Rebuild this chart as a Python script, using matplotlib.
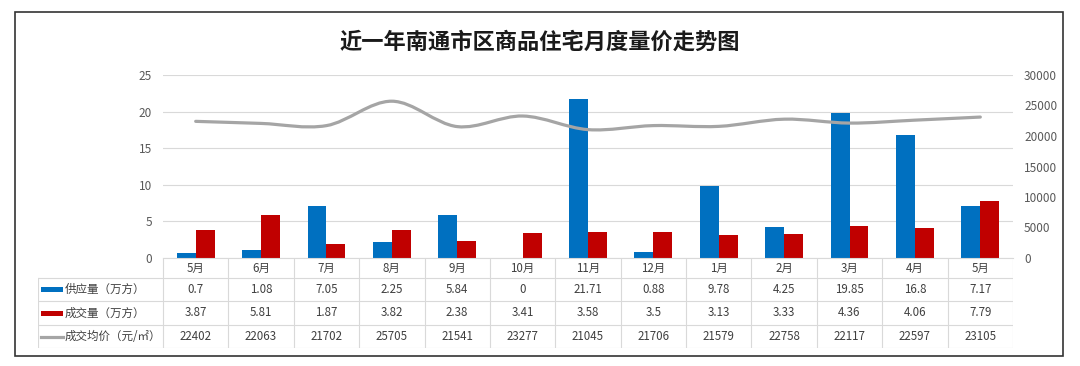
# 南通市区商品住宅月度量价走势图 - bars + smoothed price line + data table
import matplotlib
matplotlib.use('Agg')
import matplotlib.pyplot as plt
from matplotlib.path import Path
from matplotlib.patches import PathPatch, Rectangle
import numpy as np

plt.rcParams['font.family'] = ['Noto Sans CJK SC', 'DejaVu Sans']

# data
months = ['5月', '6月', '7月', '8月', '9月', '10月', '11月', '12月',
          '1月', '2月', '3月', '4月', '5月']
supply = [0.7, 1.08, 7.05, 2.25, 5.84, 0, 21.71, 0.88, 9.78, 4.25, 19.85, 16.8, 7.17]
deals = [3.87, 5.81, 1.87, 3.82, 2.38, 3.41, 3.58, 3.5, 3.13, 3.33, 4.36, 4.06, 7.79]
price = [22402, 22063, 21702, 25705, 21541, 23277, 21045, 21706,
         21579, 22758, 22117, 22597, 23105]
series_names = ['供应量（万方）', '成交量（万方）', '成交均价（元/㎡）']

blue = '#0070C0'
red = '#C00000'
grey = '#A5A5A5'
gridc = '#D9D9D9'
txtc = '#404040'

W, H = 1080, 366
fig = plt.figure(figsize=(W / 100, H / 100), dpi=100)


def fx(px):
    return px / W


def fy(py):
    return 1 - py / H


# plot area in pixels
L, R, T, B = 163, 1013, 75, 258
ax = fig.add_axes([fx(L), fy(B), fx(R - L), fy(T) - fy(B)])
x = np.arange(len(months))
bw = 0.29
ax.bar(x - bw / 2, supply, bw, color=blue, zorder=2)
ax.bar(x + bw / 2, deals, bw, color=red, zorder=2)
ax.set_xlim(-0.5, len(months) - 0.5)
ax.set_ylim(0, 25)
ax.set_yticks(np.arange(0, 26, 5))
ax.set_xticks([])
ax.grid(axis='y', color=gridc, linewidth=0.8, zorder=0)
for s in ['top', 'right', 'left']:
    ax.spines[s].set_visible(False)
ax.spines['bottom'].set_color(gridc)
ax.tick_params(axis='y', length=0, labelsize=8.5, labelcolor='#595959', pad=8)

# price line on secondary axis, smoothed like Excel (Catmull-Rom -> Bezier)
ax2 = ax.twinx()
ax2.set_ylim(0, 30000)
ax2.set_yticks(np.arange(0, 30001, 5000))
ax2.tick_params(axis='y', length=0, labelsize=8.5, labelcolor='#595959', pad=8)
for s in ax2.spines.values():
    s.set_visible(False)
px = np.array(x, dtype=float)
py = np.array(price, dtype=float)
verts = [(px[0], py[0])]
codes = [Path.MOVETO]
n = len(px)
for i in range(n - 1):
    p0 = (px[max(i - 1, 0)], py[max(i - 1, 0)])
    p1 = (px[i], py[i])
    p2 = (px[i + 1], py[i + 1])
    p3 = (px[min(i + 2, n - 1)], py[min(i + 2, n - 1)])
    c1 = (p1[0] + (p2[0] - p0[0]) / 6, p1[1] + (p2[1] - p0[1]) / 6)
    c2 = (p2[0] - (p3[0] - p1[0]) / 6, p2[1] - (p3[1] - p1[1]) / 6)
    verts += [c1, c2, p2]
    codes += [Path.CURVE4] * 3
ax2.add_patch(PathPatch(Path(verts, codes), facecolor='none', edgecolor=grey,
                        linewidth=2.3, capstyle='round', zorder=3))

# data table under the plot
TL = 38
rows_y = [258, 278, 301, 325, 348]
cw = (R - L) / len(months)
tab = fig.add_axes([fx(TL), fy(rows_y[-1]), fx(R - TL), fy(rows_y[0]) - fy(rows_y[-1])])
tab.set_xlim(-0.5 - (L - TL) / cw, len(months) - 0.5)
tab.set_ylim(rows_y[-1], rows_y[0])
tab.axis('off')
left = -0.5 - (L - TL) / cw
for yy in rows_y[1:]:
    tab.plot([left, len(months) - 0.5], [yy, yy], color=gridc, lw=0.8)
for i in range(len(months) + 1):
    tab.plot([i - 0.5, i - 0.5], [rows_y[0], rows_y[-1]], color=gridc, lw=0.8)
tab.plot([left, left], [rows_y[1], rows_y[-1]], color=gridc, lw=0.8)

fs = 8.3
for i, m in enumerate(months):
    tab.text(i, (rows_y[0] + rows_y[1]) / 2, m, ha='center', va='center',
             fontsize=fs, color=txtc)
for r, vals in enumerate([supply, deals, price]):
    yc = (rows_y[r + 1] + rows_y[r + 2]) / 2
    for i, v in enumerate(vals):
        tab.text(i, yc, f'{v:g}', ha='center', va='center', fontsize=fs, color=txtc)

key_w = 22 / cw
key_x0 = left + 3 / cw
for r, (name, col) in enumerate(zip(series_names, [blue, red, grey])):
    yc = (rows_y[r + 1] + rows_y[r + 2]) / 2
    if r < 2:
        tab.add_patch(Rectangle((key_x0, yc - 2.5), key_w, 5, color=col, lw=0))
    else:
        tab.plot([key_x0, key_x0 + key_w], [yc, yc], color=col, lw=2.3)
    tab.text(key_x0 + key_w + 2 / cw, yc, name, ha='left', va='center',
             fontsize=fs, color=txtc)

# title and outer frame
fig.text(0.5, fy(42), '近一年南通市区商品住宅月度量价走势图', ha='center', va='center',
         fontsize=16, fontweight='bold', color='#1a1a1a')
fig.patches.append(Rectangle((fx(15), fy(356)), fx(1063 - 15), fy(12) - fy(356),
                             transform=fig.transFigure, fill=False,
                             edgecolor='#333333', linewidth=1.2))

fig.savefig('out.png', dpi=100)
